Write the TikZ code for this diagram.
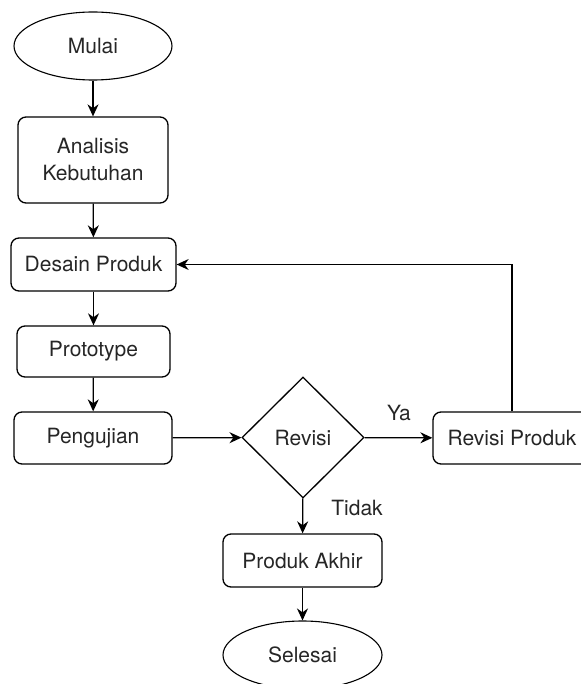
\documentclass[tikz,border=0pt]{standalone}
\usepackage{fontspec}
\setmainfont{TeX Gyre Heros}
\usetikzlibrary{shapes.geometric,arrows.meta}
\begin{document}
\begin{tikzpicture}[x=1pt,y=-1pt,
  every node/.style={font=\fontsize{21}{27}\selectfont, text=black!85},
  box/.style={draw, line width=1.3pt, rounded corners=8pt, inner sep=0pt, align=center},
  oval/.style={draw, ellipse, line width=1.1pt, inner sep=0pt},
  dia/.style={draw, diamond, line width=1.3pt, inner sep=0pt},
  conn/.style={draw, line width=1.3pt, -{Stealth[length=12pt,width=11pt]}},
  lbl/.style={inner sep=0pt}]
\useasboundingbox (0,0) rectangle (580,684);
\node[oval, minimum width=158pt, minimum height=68pt] (mulai) at (93,46) {Mulai};
\node[box, minimum width=150pt, minimum height=86pt] (analisis) at (93,160) {Analisis\\Kebutuhan};
\node[box, minimum width=165pt, minimum height=53pt] (desain) at (93.5,264.5) {Desain Produk};
\node[box, minimum width=153pt, minimum height=51pt] (proto) at (93.5,351.5) {Prototype};
\node[box, minimum width=158pt, minimum height=52pt] (uji) at (93,438) {Pengujian};
\node[dia, minimum width=122pt, minimum height=121pt] (revisi) at (303,437.5) {Revisi};
\node[box, minimum width=158pt, minimum height=52pt] (revprod) at (512,438) {Revisi Produk};
\node[box, minimum width=159pt, minimum height=53pt] (akhir) at (302.5,560.5) {Produk Akhir};
\node[oval, minimum width=159pt, minimum height=68pt] (selesai) at (302.5,655) {Selesai};
\node[lbl] (ya) at (399,413) {Ya};
\node[lbl] (tidak) at (357,508) {Tidak};
\draw[conn] (mulai) -- (analisis);
\draw[conn] (analisis) -- (desain);
\draw[conn] (desain) -- (proto);
\draw[conn] (proto) -- (uji);
\draw[conn] (uji) -- (revisi);
\draw[conn] (revisi) -- (revprod);
\draw[conn] (revisi) -- (akhir);
\draw[conn] (akhir) -- (selesai);
\draw[conn] (revprod.north) |- (desain.east);
\end{tikzpicture}
\end{document}
